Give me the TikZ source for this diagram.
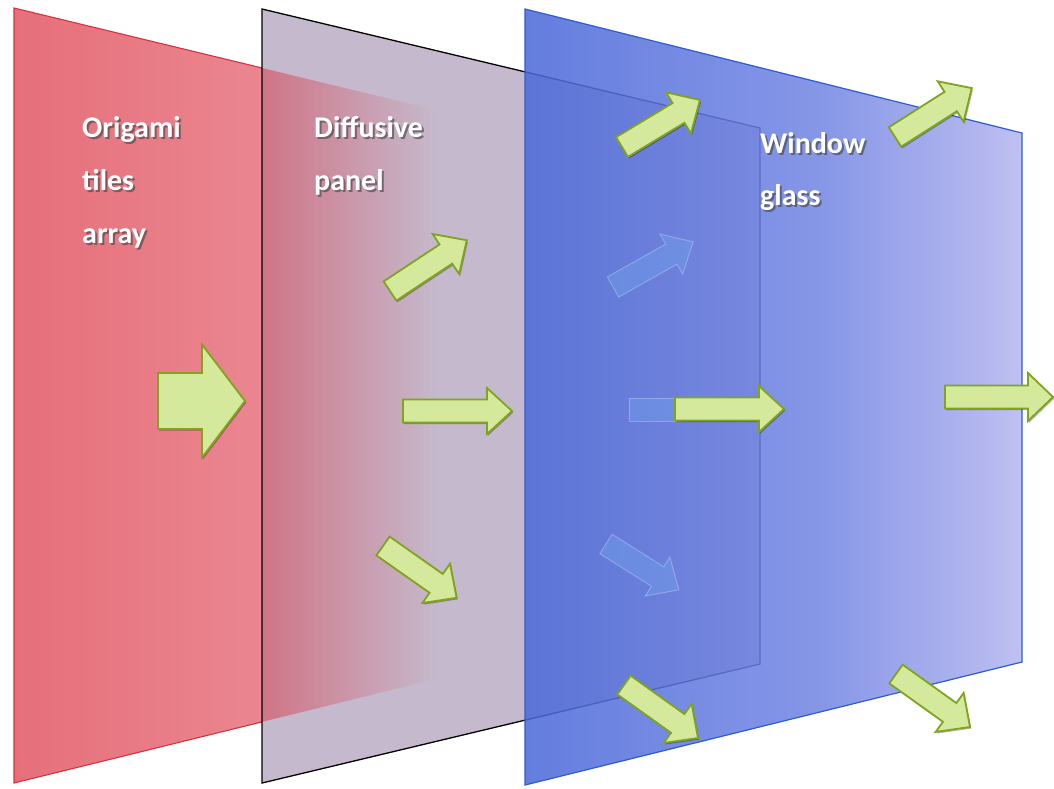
\documentclass[tikz,border=0pt]{standalone}
\usepackage{fontspec}
\setmainfont{Carlito}
\usepackage{tikz}
\usetikzlibrary{calc,shadows}
\usepackage{xcolor}
\definecolor{tilered}{HTML}{E66F7A}
\definecolor{tileredlt}{HTML}{EA8690}
\definecolor{tilemauve}{HTML}{CF7586}
\definecolor{tileedge}{HTML}{D8303F}
\definecolor{diffgray}{HTML}{C5BACD}
\definecolor{glassedge}{HTML}{2C5CD2}
\definecolor{glassA}{HTML}{4B69D9}
\definecolor{glassB}{HTML}{7386E4}
\definecolor{glassC}{HTML}{A7ABED}
\definecolor{glassD}{HTML}{B6B8F0}
\definecolor{rayfill}{HTML}{D5E99C}
\definecolor{rayedge}{HTML}{80A41E}
\definecolor{ghost}{HTML}{6FA0EA}

% glass tint, lighter towards the right
\pgfdeclarehorizontalshading{glassshade}{100bp}{color(0bp)=(glassA); color(25bp)=(glassA);
  color(55bp)=(glassB); color(71bp)=(glassC); color(75bp)=(glassD); color(100bp)=(glassD)}

\tikzset{
  ray/.style={fill=rayfill, draw=rayedge, line width=1.8, line join=miter,
    drop shadow={shadow xshift=1.2pt, shadow yshift=-1.6pt, opacity=0.3, fill=black}},
  ghostray/.style={fill=ghost, draw=ghost!50!white, line width=1, opacity=0.45},
  paneltext/.style={font=\fontsize{30}{36}\selectfont\bfseries, text=white, inner sep=0pt, anchor=base west},
  panelshadow/.style={paneltext, text=black!75, opacity=0.6}
}

% [style]{tail}{angle}{length}{half shaft}{half head}{head length}
\newcommand{\lightray}[7][ray]{%
  \begin{scope}[shift={#2}, rotate=#3]
    \path[#1] (0,-#5) -- ({#4-#7},-#5) -- ({#4-#7},-#6) -- (#4,0)
      -- ({#4-#7},#6) -- ({#4-#7},#5) -- (0,#5) -- cycle;
  \end{scope}}
% white label with a soft shadow
\newcommand{\panellabel}[3]{%
  \node[panelshadow] (#2-sh) at ($#1+(2,2)$) {#3};
  \node[paneltext] (#2) at #1 {#3};}

\begin{document}
\begin{tikzpicture}[x=1pt,y=-1pt]
  \fill[white] (0,0) rectangle (1054,788);
  \useasboundingbox (0,0) rectangle (1054,788);

  % panel corners
  \coordinate (r1) at (14,8);   \coordinate (r2) at (440,111);
  \coordinate (r3) at (440,678); \coordinate (r4) at (14,783);
  \coordinate (g1) at (262,9);  \coordinate (g2) at (760,128);
  \coordinate (g3) at (760,664); \coordinate (g4) at (262,783);
  \coordinate (b1) at (525,9);  \coordinate (b2) at (1022,133);
  \coordinate (b3) at (1022,662); \coordinate (b4) at (525,785);
  \coordinate (rt) at ($(r1)!0.582!(r2)$);
  \coordinate (rb) at ($(r4)!0.582!(r3)$);

  % origami tiles
  \shade[left color=tilered, right color=tileredlt] (r1) -- (rt) -- (rb) -- (r4) -- cycle;
  \draw[tileedge, line width=1.1] (rt) -- (r1) -- (r4) -- (rb);
  \lightray{(158,401)}{0}{87}{28}{56.5}{43}

  % diffusive panel, tiles showing through on the left
  \fill[diffgray] (g1) -- (g2) -- (g3) -- (g4) -- cycle;
  \shade[left color=tilemauve, right color=diffgray] (rt) -- (r2) -- (r3) -- (rb) -- cycle;
  \draw[black, line width=1.3] (g1) -- (g2) -- (g3) -- (g4) -- cycle;
  \lightray{(390,291)}{33.5}{92}{11.5}{24}{25}
  \lightray{(403,411)}{0}{109}{11.5}{23}{25}
  \lightray{(383,546)}{-35.1}{90}{11.5}{24}{25}

  % window glass
  \shade[shading=glassshade, opacity=0.86] (b1) -- (b2) -- (b3) -- (b4) -- cycle;
  \draw[glassedge, line width=1.2] (b1) -- (b2) -- (b3) -- (b4) -- cycle;
  \lightray[ghostray]{(613,287)}{29.4}{92}{11.5}{23}{25}
  \fill[ghostray] (629,398) rectangle (680,421);
  \lightray[ghostray]{(606,544)}{-32.2}{86}{11.5}{23}{25}

  \lightray{(622,147)}{31.1}{91}{11.5}{24}{25}
  \lightray{(895,137)}{32.5}{91}{11.5}{24}{25}
  \lightray{(675,409)}{0}{109}{11.5}{23}{25}
  \lightray{(945,397)}{0}{108}{11.5}{24}{25}
  \lightray{(624,685)}{-35.6}{91}{11.5}{24}{25}
  \lightray{(896,674)}{-35.6}{91}{11.5}{24}{25}

  % labels
  \panellabel{(82,137)}{origami}{Origami}
  \panellabel{(82,190)}{tiles}{tiles}
  \panellabel{(82,243)}{array}{array}
  \panellabel{(314,137)}{diffusive}{Diffusive}
  \panellabel{(314,190)}{panel}{panel}
  \panellabel{(760,153)}{window}{Window}
  \panellabel{(760,205)}{glass}{glass}
\end{tikzpicture}
\end{document}
